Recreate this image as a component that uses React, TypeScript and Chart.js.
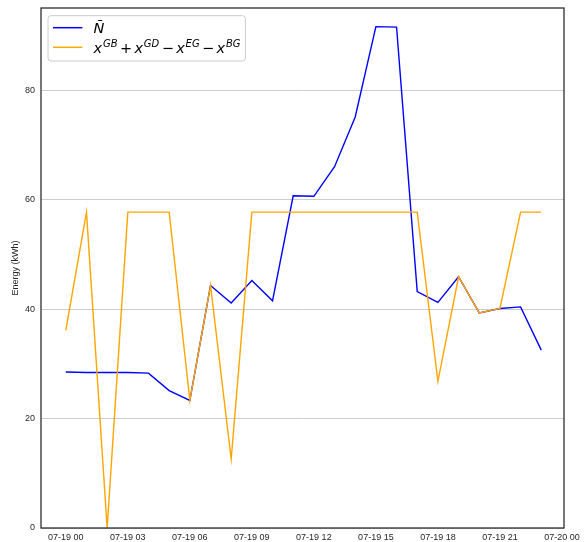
import React, { useEffect, useRef } from 'react';
import { Chart, registerables } from 'chart.js';

Chart.register(...registerables);

// ---- data ----
const hours = [0, 1, 2, 3, 4, 5, 6, 7, 8, 9, 10, 11, 12, 13, 14, 15, 16, 17, 18, 19, 20, 21, 22, 23];
const nTilde = [28.5, 28.4, 28.4, 28.4, 28.3, 25.1, 23.3, 44.3, 41.1, 45.2, 41.5, 60.7, 60.6, 66.0, 75.1, 91.6, 91.5, 43.2, 41.2, 45.9, 39.3, 40.1, 40.4, 32.5];
const netExchange = [36.1, 57.7, 0, 57.7, 57.7, 57.7, 23.3, 44.3, 12.6, 57.7, 57.7, 57.7, 57.7, 57.7, 57.7, 57.7, 57.7, 57.7, 26.8, 45.9, 39.3, 40.1, 57.7, 57.7];
const xTickHours = [0, 3, 6, 9, 12, 15, 18, 21, 24];
const xTickLabels = ['07-19 00', '07-19 03', '07-19 06', '07-19 09', '07-19 12', '07-19 15', '07-19 18', '07-19 21', '07-20 00'];
const yTickValues = [0, 20, 40, 60, 80];
const yTitle = 'Energy (kWh)';
const seriesNames = ['Ñ', 'x^GB + x^GD − x^EG − x^BG'];
const seriesColors = ['#0000ff', '#ffa500'];

// legend rich-text pieces: [text, kind] kind: 'i' italic, 's' superscript italic, 'o' operator
const legendParts: [string, string][][] = [
  [['Ñ', 'i']],
  [['x', 'i'], ['GB', 's'], ['+', 'o'], ['x', 'i'], ['GD', 's'], ['−', 'o'], ['x', 'i'], ['EG', 's'], ['−', 'o'], ['x', 'i'], ['BG', 's']],
];

const INK = '#262626';

const framePlugin = {
  id: 'frameAndLegend',
  afterDatasetsDraw(chart: any) {
    const { ctx, chartArea: ca } = chart;
    ctx.save();
    // frame
    ctx.strokeStyle = INK;
    ctx.lineWidth = 1.25;
    ctx.strokeRect(ca.left, ca.top, ca.right - ca.left, ca.bottom - ca.top);

    // legend box
    const bx = ca.left + 7;
    const by = ca.top + 7.7;
    const bw = 197.4;
    const bh = 45.3;
    const r = 3;
    ctx.beginPath();
    ctx.moveTo(bx + r, by);
    ctx.lineTo(bx + bw - r, by);
    ctx.quadraticCurveTo(bx + bw, by, bx + bw, by + r);
    ctx.lineTo(bx + bw, by + bh - r);
    ctx.quadraticCurveTo(bx + bw, by + bh, bx + bw - r, by + bh);
    ctx.lineTo(bx + r, by + bh);
    ctx.quadraticCurveTo(bx, by + bh, bx, by + bh - r);
    ctx.lineTo(bx, by + r);
    ctx.quadraticCurveTo(bx, by, bx + r, by);
    ctx.closePath();
    ctx.fillStyle = 'rgba(255,255,255,0.8)';
    ctx.fill();
    ctx.strokeStyle = '#cccccc';
    ctx.lineWidth = 1;
    ctx.stroke();

    const fam = '"DejaVu Sans", sans-serif';
    legendParts.forEach((parts, i) => {
      const rowY = by + 12 + i * 19.6;
      ctx.strokeStyle = chart.data.datasets[i].borderColor;
      ctx.lineWidth = 1.5;
      ctx.beginPath();
      ctx.moveTo(bx + 5, rowY);
      ctx.lineTo(bx + 34.4, rowY);
      ctx.stroke();

      let x = bx + 45.5;
      const base = rowY + 5.3;
      ctx.fillStyle = '#000000';
      ctx.textBaseline = 'alphabetic';
      ctx.textAlign = 'left';
      parts.forEach(([t, k]) => {
        if (k === 's') {
          ctx.font = `italic 10px ${fam}`;
          ctx.fillText(t, x + 0.8, base - 6);
          x += ctx.measureText(t).width + 0.8;
        } else if (k === 'o') {
          ctx.font = `14.5px ${fam}`;
          x += 2.4;
          ctx.fillText(t, x, base);
          x += ctx.measureText(t).width + 2.4;
        } else {
          ctx.font = `italic 14.5px ${fam}`;
          ctx.fillText(t, x, base);
          x += ctx.measureText(t).width;
        }
      });
    });
    ctx.restore();
  },
};

export default function App() {
  const ref = useRef<HTMLCanvasElement>(null);
  useEffect(() => {
    if (!ref.current) return;
    const tickFont = { family: '"Liberation Sans", Arial, sans-serif', size: 9 };
    const chart = new Chart(ref.current, {
      type: 'line',
      data: {
        datasets: [
          {
            label: seriesNames[0],
            data: hours.map((h, i) => ({ x: h, y: nTilde[i] })),
            borderColor: seriesColors[0],
            backgroundColor: seriesColors[0],
            borderWidth: 1.4,
            pointRadius: 0,
            tension: 0,
            fill: false,
            order: 1,
          },
          {
            label: seriesNames[1],
            data: hours.map((h, i) => ({ x: h, y: netExchange[i] })),
            borderColor: seriesColors[1],
            backgroundColor: seriesColors[1],
            borderWidth: 1.4,
            pointRadius: 0,
            tension: 0,
            fill: false,
            order: 0,
          },
        ],
      },
      options: {
        animation: false,
        responsive: false,
        events: [],
        layout: { padding: { top: 8, right: 22, left: 0, bottom: 0 } },
        plugins: { legend: { display: false }, tooltip: { enabled: false } },
        scales: {
          x: {
            type: 'linear',
            min: -1.2,
            max: 24.1,
            afterBuildTicks: (s: any) => {
              s.ticks = xTickHours.map((v) => ({ value: v }));
            },
            afterFit: (s: any) => {
              s.height = 14;
              s.paddingLeft = 0;
              s.paddingRight = 0;
            },
            ticks: {
              callback: (_v: any, idx: number) => xTickLabels[idx],
              font: tickFont,
              color: INK,
              padding: 4,
              maxRotation: 0,
              autoSkip: false,
            },
            grid: { display: false, drawTicks: false },
            border: { display: false },
          },
          y: {
            type: 'linear',
            min: 0,
            max: 95,
            afterBuildTicks: (s: any) => {
              s.ticks = yTickValues.map((v) => ({ value: v }));
            },
            afterFit: (s: any) => {
              s.width = 41;
              s.paddingTop = 0;
              s.paddingBottom = 0;
            },
            ticks: { font: tickFont, color: INK, padding: 6 },
            grid: { color: '#cccccc', lineWidth: 1, drawTicks: false },
            border: { display: false },
            title: {
              display: true,
              text: yTitle,
              font: tickFont,
              color: INK,
              padding: { top: 10, bottom: 0 },
            },
          },
        },
      },
      plugins: [framePlugin],
    } as any);
    return () => chart.destroy();
  }, []);
  return (
    <div style={{ position: 'absolute', left: 0, top: 0, width: 586, height: 542, background: '#ffffff' }}>
      <canvas ref={ref} width={586} height={542} style={{ display: 'block', width: 586, height: 542 }} />
    </div>
  );
}
